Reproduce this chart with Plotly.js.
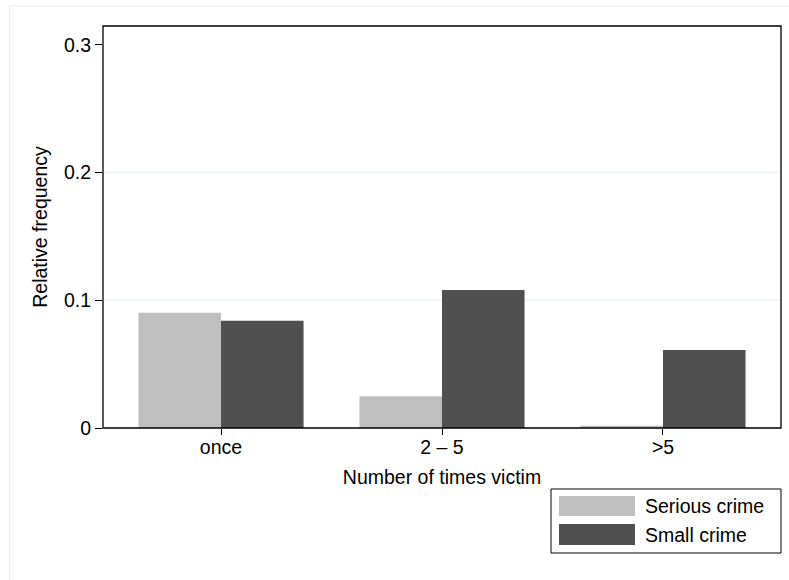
<!DOCTYPE html>
<html>
<head>
<meta charset="utf-8">
<script src="https://cdn.plot.ly/plotly-3.0.1.min.js"></script>
<style>html,body{margin:0;padding:0;background:#fff;}#chart{width:789px;height:580px;}</style>
</head>
<body>
<div id="chart"></div>
<script>
var categories = ["once", "2 \u2013 5", ">5"];
var seriesNames = ["Serious crime", "Small crime"];
var seriousValues = [0.0903, 0.0248, 0.0018];
var smallValues = [0.0840, 0.1080, 0.0611];
var seriesColors = ["#bfbfbf", "#505050"];
var yTickVals = [0, 0.1, 0.2, 0.3];
var yTickText = ["0", "0.1", "0.2", "0.3"];
var gridVals = [0.1, 0.2];

var FONT = "Liberation Sans, Arial, sans-serif";
var FS = 19.5;

var traces = [
  {type: "bar", x: categories, y: seriousValues, name: seriesNames[0],
   marker: {color: seriesColors[0], line: {width: 0}}, showlegend: false, hoverinfo: "none"},
  {type: "bar", x: categories, y: smallValues, name: seriesNames[1],
   marker: {color: seriesColors[1], line: {width: 0}}, showlegend: false, hoverinfo: "none"}
];

var shapes = [];
shapes.push({type: "rect", xref: "paper", yref: "paper", x0: -0.1379, x1: 1.03, y0: -0.42, y1: 1.0498,
  line: {color: "#eaf2f3", width: 1.5}, fillcolor: "rgba(0,0,0,0)", layer: "below"});
gridVals.forEach(function (v) {
  shapes.push({type: "line", xref: "paper", yref: "y", x0: 0, x1: 1, y0: v, y1: v,
    line: {color: "#eaf2f3", width: 1.5}, layer: "below"});
});
shapes.push({type: "rect", xref: "paper", yref: "paper", x0: 0, x1: 1, y0: 0, y1: 1,
  line: {color: "#000", width: 1.3}, fillcolor: "rgba(0,0,0,0)", layer: "above"});
var lgX0 = (551 - 103) / 678, lgX1 = (781 - 103) / 678;
var py = function (px) { return (428 - px) / 402; };
shapes.push({type: "rect", xref: "paper", yref: "paper", x0: lgX0, x1: lgX1, y0: py(553), y1: py(489),
  line: {color: "#000", width: 1}, fillcolor: "#fff"});
var swX0 = (559 - 103) / 678, swX1 = (635 - 103) / 678;
var swRows = [[496, 516], [524, 545]];
var annotations = [];
seriesNames.forEach(function (n, i) {
  shapes.push({type: "rect", xref: "paper", yref: "paper", x0: swX0, x1: swX1,
    y0: py(swRows[i][1]), y1: py(swRows[i][0]), line: {width: 0}, fillcolor: seriesColors[i]});
  annotations.push({xref: "paper", yref: "paper", x: (643 - 103) / 678, y: py((swRows[i][0] + swRows[i][1]) / 2),
    xanchor: "left", yanchor: "middle", text: n, showarrow: false,
    font: {family: FONT, size: FS, color: "#000"}});
});

var layout = {
  width: 789, height: 580,
  margin: {l: 103, r: 8, t: 26, b: 152},
  paper_bgcolor: "#fff", plot_bgcolor: "#fff",
  barmode: "group", bargap: 0.253, bargroupgap: 0,
  showlegend: false,
  font: {family: FONT, size: FS, color: "#000"},
  xaxis: {
    type: "category", range: [-0.534, 2.534],
    showgrid: false, zeroline: false, showline: false,
    ticks: "outside", ticklen: 6, tickcolor: "#000",
    ticklabelstandoff: -4,
    tickfont: {family: FONT, size: FS, color: "#000"},
    title: {text: "Number of times victim", font: {family: FONT, size: FS, color: "#000"}, standoff: 12}
  },
  yaxis: {
    range: [0, 0.3148],
    tickvals: yTickVals, ticktext: yTickText,
    showgrid: false, zeroline: false, showline: false,
    ticks: "outside", ticklen: 7, tickcolor: "#000",
    tickfont: {family: FONT, size: FS, color: "#000"},
    title: {text: "Relative frequency", font: {family: FONT, size: FS, color: "#000"}, standoff: 11}
  },
  shapes: shapes,
  annotations: annotations
};

Plotly.newPlot("chart", traces, layout, {displayModeBar: false, staticPlot: true});
</script>
</body>
</html>
